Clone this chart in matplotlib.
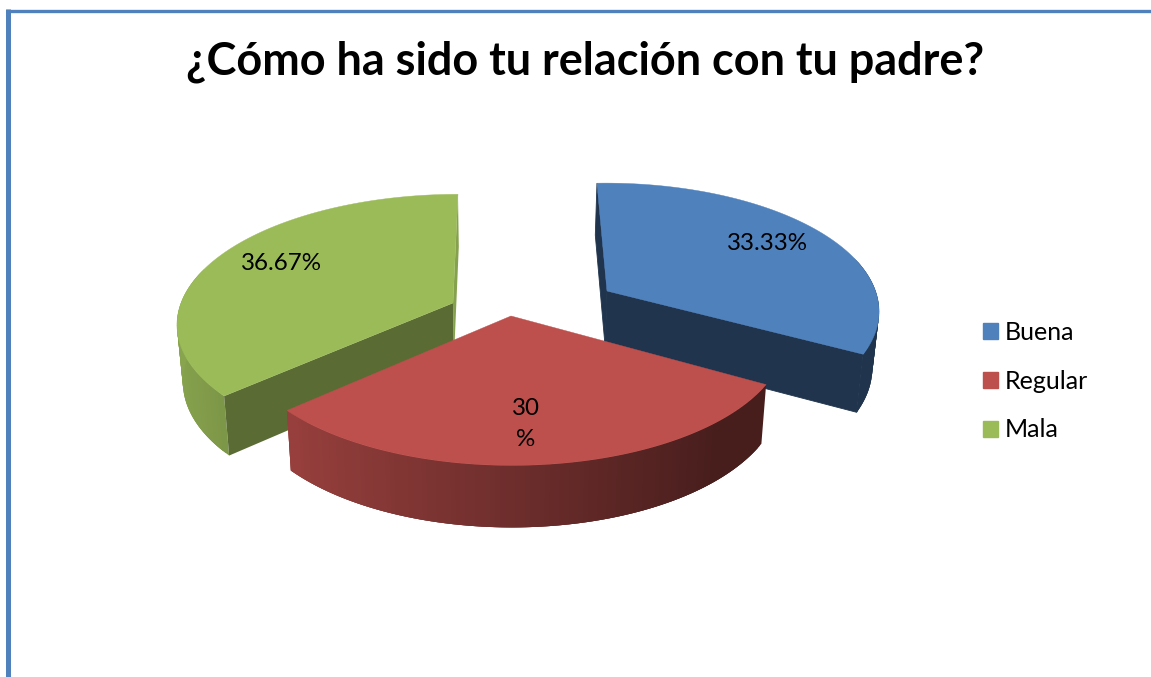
import numpy as np
import matplotlib
matplotlib.use('Agg')
import matplotlib.pyplot as plt
from matplotlib.patches import Polygon, Patch

# data
categories = ['Buena', 'Regular', 'Mala']
values = [33.33, 30, 36.67]
value_labels = ['33.33%', '30\n%', '36.67%']

title = '¿Cómo ha sido tu relación con tu padre?'

colors = ['#4f81bd', '#bd4f4c', '#9bbb59']

# where each exploded slice has its tip on the canvas, and its radii
apex = [(607, 291), (511, 316), (453, 303)]
radii = [(267, 124), (272, 127), (272, 125)]
tilt = [-4, 0, 0]
label_pos = [(767, 244), (526, 424), (281, 263)]

x0 = 504
persp = 0.15
skew = 0.112

plt.rcParams['font.family'] = ['Lato', 'DejaVu Sans']

fig, ax = plt.subplots(figsize=(11.51, 6.77), dpi=100)
fig.subplots_adjust(0, 0, 1, 1)
ax.set_xlim(0, 1151)
ax.set_ylim(677, 0)
ax.axis('off')


def top_point(i, deg):
    t = np.radians(deg)
    den = 1 + persp * np.cos(t)
    ax_, ay_ = apex[i]
    rx, ry = radii[i]
    x = ax_ + (rx * np.sin(t) - skew * (ax_ - x0) * np.cos(t)) / den
    y = ay_ + (tilt[i] * np.sin(t) - ry * np.cos(t)) / den
    return x, y


def bottom_point(x, y):
    return x0 + (x - x0) * 0.982, y + 52 + (y - 183) * 0.0355


def shade(col, f):
    rgb = np.array(matplotlib.colors.to_rgb(col))
    return tuple(rgb * f)


def wall_shade(i, deg):
    if i == 0:
        return 0.41
    return max(0.38, 0.58 - 0.30 * np.sin(np.radians(deg)))


def quad(p, q, col, z, lw=0):
    pts = [p, q, bottom_point(*q), bottom_point(*p)]
    ax.add_patch(Polygon(pts, closed=True, fc=col, ec=col if lw else 'none',
                         lw=lw, zorder=z))


edges = np.concatenate([[0], np.cumsum(values)]) / sum(values) * 360

# back slices first, the red one sits in front of both
for z, i in enumerate([0, 2, 1]):
    start, end = edges[i], edges[i + 1]
    angles = np.linspace(start, end, 121)
    arc = [top_point(i, a) for a in angles]
    base = z * 10

    # outer wall, only the part turned to the viewer
    # each strip runs past the next one so no seams show
    for k in range(len(angles) - 1):
        a = angles[k]
        b = angles[min(k + 3, len(angles) - 1)]
        mid = (angles[k] + angles[k + 1]) / 2
        if np.cos(np.radians(mid)) < 0.25:
            quad(top_point(i, a), top_point(i, b),
                 shade(colors[i], wall_shade(i, mid)), base + 1)

    # flat cut faces
    if i == 0:
        quad(arc[0], apex[i], shade(colors[i], 0.41), base + 2, lw=0.6)
        quad(apex[i], arc[-1], shade(colors[i], 0.41), base + 2, lw=0.6)
    if i == 2:
        quad(arc[-1], apex[i], shade(colors[i], 0.86), base + 2)
        quad(apex[i], arc[0], shade(colors[i], 0.58), base + 2)

    ax.add_patch(Polygon(arc + [apex[i]], closed=True, fc=colors[i],
                         ec=colors[i], lw=0.3, zorder=base + 3))

for i in range(3):
    ax.text(label_pos[i][0], label_pos[i][1], value_labels[i], fontsize=17.4,
            ha='center', va='center', color='black', zorder=50, linespacing=1.62)

ax.text(585, 62, title, fontsize=32.4, fontweight='bold', ha='center',
        va='center', color='black')

# frame of the chart area
ax.plot([8.5, 8.5], [9, 677], color='#4f81bd', lw=3.6, solid_capstyle='butt')
ax.plot([6, 1151], [10.5, 10.5], color='#4f81bd', lw=2.4, solid_capstyle='butt')

handles = [Patch(fc=c, ec=c) for c in colors]
ax.legend(handles, categories, loc='center left', bbox_to_anchor=(0.8345, 0.437),
          frameon=False, fontsize=18, handlelength=0.6, handleheight=0.6,
          handletextpad=0.28, labelspacing=1.03)

fig.savefig('out.png', dpi=100)
